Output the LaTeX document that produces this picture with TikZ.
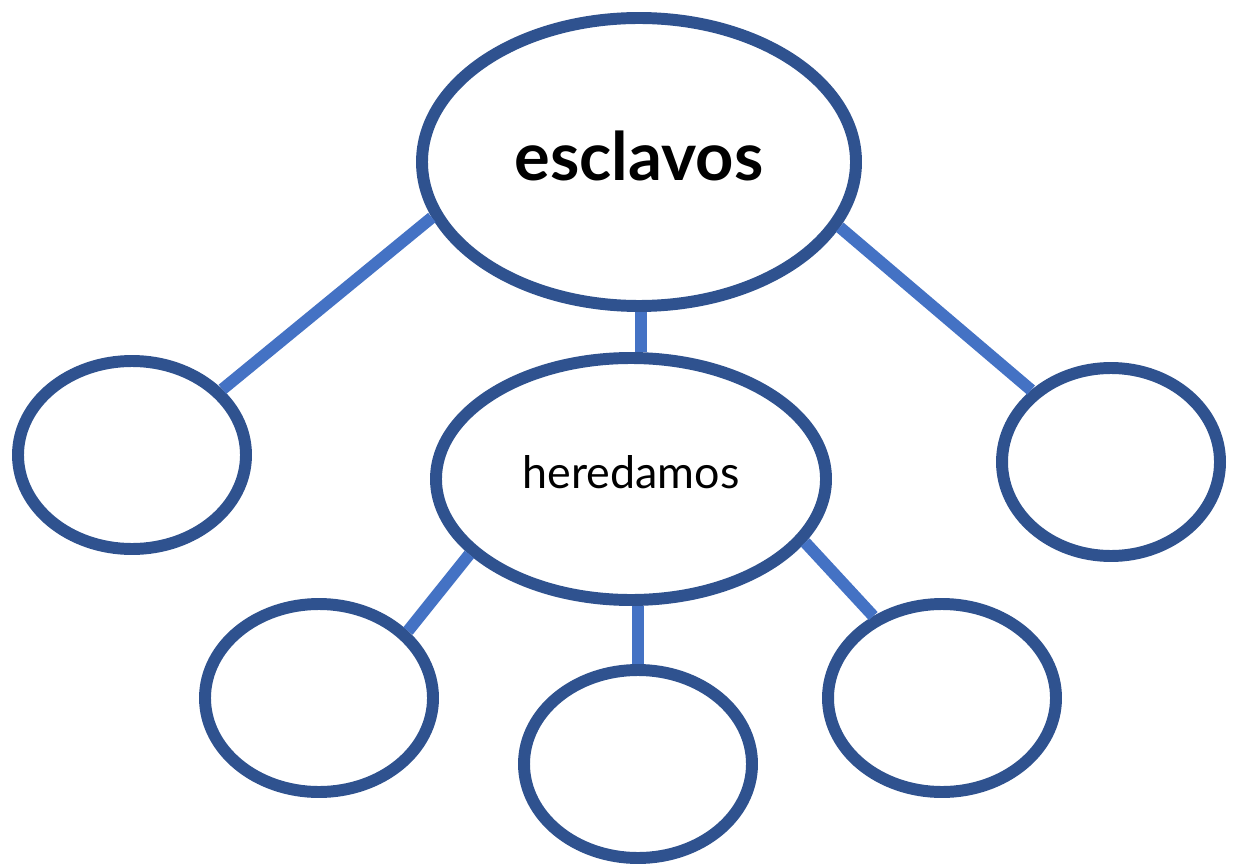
\documentclass[tikz,border=0pt]{standalone}
\usepackage{fontspec}
\setmainfont{Lato}
\usepackage{xcolor}
\usepackage{tikz}
\usetikzlibrary{shapes.geometric}
\definecolor{ringblue}{HTML}{2F528F}
\definecolor{linkblue}{HTML}{4472C4}

\begin{document}
\begin{tikzpicture}[
    bubble/.style={ellipse, draw=ringblue, line width=6.8pt, fill=white, inner sep=0pt,
        minimum width=4.56cm, minimum height=3.76cm},
    link/.style={draw=linkblue, line width=6.8pt}
]
        \useasboundingbox (0,0) rectangle (24.78,-17.3);
        % main ideas
		\node [bubble, minimum width=8.68cm, minimum height=5.76cm] (top) at (12.78, -3.24)
            {\raisebox{0.25cm}{\fontsize{38}{40}\selectfont\bfseries esclavos}};
		\node [bubble, minimum width=7.80cm, minimum height=4.84cm] (mid) at (12.62, -9.58)
            {\raisebox{0.3cm}{\fontsize{25.5}{28}\selectfont heredamos}};
        % empty ones
		\node [bubble] (left) at (2.64, -9.10) {};
		\node [bubble, minimum width=4.36cm] (right) at (22.22, -9.24) {};
		\node [bubble] (botleft) at (6.38, -13.96) {};
		\node [bubble] (botmid) at (12.76, -15.28) {};
		\node [bubble] (botright) at (18.84, -13.96) {};
        % links
		\draw [link] (top.195) -- (left.36);
		\draw [link] (top.342) -- (right.138);
		\draw [link] (top.south -| 12.82,0) -- (mid.north -| 12.82,0);
		\draw [link] (mid.205) -- (botleft.37);
		\draw [link] (botmid.north) -- (mid.south -| botmid.north);
		\draw [link] (mid.340) -- (botright.130);
	\end{tikzpicture}
\end{document}
